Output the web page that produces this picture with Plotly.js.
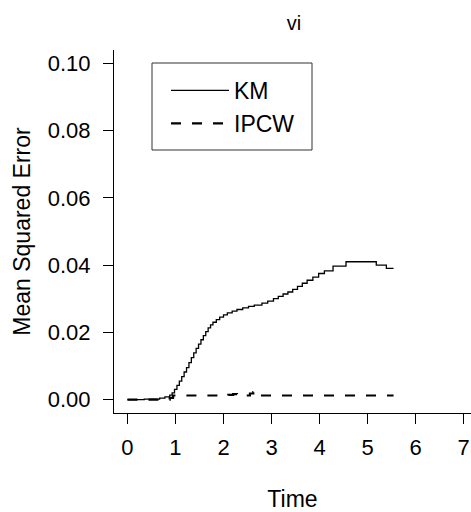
<!DOCTYPE html>
<html>
<head>
<meta charset="utf-8">
<script src="https://cdn.plot.ly/plotly-3.0.1.min.js"></script>
<style>html,body{margin:0;padding:0;background:#fff;overflow:hidden;}#chart{width:471px;height:512px;}</style>
</head>
<body>
<div id="chart"></div>
<script>
// KM step curve (time, mean squared error); each value holds from its time onward
const kmTime = [0, 0.35, 0.67, 0.78, 0.88, 0.93, 0.98, 1.03, 1.08, 1.13, 1.18, 1.23, 1.28, 1.33, 1.38, 1.43, 1.48, 1.53, 1.58, 1.63, 1.68, 1.73, 1.78, 1.85, 1.92, 2.0, 2.08, 2.18, 2.28, 2.4, 2.52, 2.64, 2.8, 2.92, 3.04, 3.14, 3.24, 3.34, 3.44, 3.54, 3.64, 3.74, 3.86, 3.98, 4.1, 4.28, 4.55, 5.18, 5.39, 5.54];
const kmMSE  = [0.0000, 0.0001, 0.0004, 0.0008, 0.0013, 0.0020, 0.0030, 0.0042, 0.0055, 0.0068, 0.0082, 0.0095, 0.0110, 0.0125, 0.0139, 0.0152, 0.0165, 0.0178, 0.0190, 0.0202, 0.0213, 0.0222, 0.0230, 0.0238, 0.0245, 0.0252, 0.0258, 0.0263, 0.0268, 0.0273, 0.0277, 0.0281, 0.0287, 0.0293, 0.0300, 0.0307, 0.0314, 0.0320, 0.0328, 0.0337, 0.0346, 0.0355, 0.0364, 0.0375, 0.0383, 0.0397, 0.0410, 0.0400, 0.0390, 0.0390];
// IPCW step curve
const ipcwTime = [0, 0.88, 0.95, 2.1, 2.2, 2.28, 2.55, 2.62, 2.7, 2.78, 5.54];
const ipcwMSE  = [0.0000, 0.0005, 0.0012, 0.0014, 0.0016, 0.0012, 0.0018, 0.0022, 0.0016, 0.0012, 0.0012];

const xTicks = [0, 1, 2, 3, 4, 5, 6, 7];
const yTicks = [0, 0.02, 0.04, 0.06, 0.08, 0.10];
const yTickText = ["0.00", "0.02", "0.04", "0.06", "0.08", "0.10"];

const FONT = "Liberation Sans, Arial, sans-serif";

const traces = [
  {x: kmTime, y: kmMSE, name: "KM", mode: "lines", type: "scatter",
   line: {shape: "hv", color: "#000", width: 1.3}},
  {x: ipcwTime, y: ipcwMSE, name: "IPCW", mode: "lines", type: "scatter",
   line: {shape: "hv", color: "#000", width: 2.2, dash: "10px,11px"}}
];

const layout = {
  width: 471, height: 512,
  margin: {l: 114, r: 0, t: 50, b: 99, pad: 0},
  paper_bgcolor: "#fff", plot_bgcolor: "#fff",
  font: {family: FONT, color: "#000", size: 22},
  title: {text: "vi", x: 294/471, xanchor: "center", xref: "container", y: 1 - 23/512, yanchor: "middle", yref: "container",
          font: {family: FONT, size: 20, color: "#000"}},
  showlegend: true,
  legend: {x: (166-114)/357, y: (413-69)/363, xanchor: "left", yanchor: "top",
           borderwidth: 0, bgcolor: "rgba(255,255,255,0)", tracegroupgap: 0,
           font: {family: FONT, size: 23, color: "#000"}, itemwidth: 58},
  shapes: [
    {type: "rect", xref: "paper", yref: "paper",
     x0: (152-114)/357, x1: (312-114)/357, y0: (413-150)/363, y1: (413-63)/363,
     line: {color: "#333", width: 1}, fillcolor: "rgba(0,0,0,0)"}
  ],
  xaxis: {range: [-0.28, (471-127.7)/48], tickvals: xTicks, ticktext: xTicks.map(String),
          ticks: "outside", ticklen: 10, tickwidth: 1, tickcolor: "#000",
          showline: true, linecolor: "#000", linewidth: 1, showgrid: false, zeroline: false,
          tickfont: {family: FONT, size: 22, color: "#000"}, ticklabelstandoff: 5,
          title: {text: "Time", font: {family: FONT, size: 23, color: "#000"}, standoff: 41}},
  yaxis: {range: [-0.004, 0.104], tickvals: yTicks, ticktext: yTickText,
          ticks: "outside", ticklen: 10, tickwidth: 1, tickcolor: "#000",
          showline: true, linecolor: "#000", linewidth: 1, showgrid: false, zeroline: false,
          tickfont: {family: FONT, size: 22, color: "#000"}, ticklabelstandoff: 8,
          title: {text: "Mean Squared Error", font: {family: FONT, size: 23, color: "#000"}, standoff: 10}}
};

Plotly.newPlot("chart", traces, layout, {displayModeBar: false, staticPlot: true});
</script>
</body>
</html>
